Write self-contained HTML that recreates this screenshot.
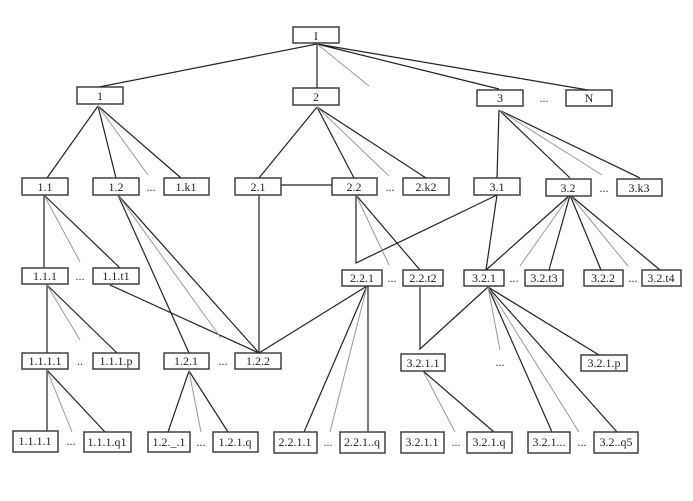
<!DOCTYPE html>
<html><head><style>
html,body{margin:0;padding:0;background:#fff;}
svg{display:block;}
text{font-family:"Liberation Serif",serif;font-size:12px;fill:#222;text-anchor:middle;}
.b{fill:#fff;stroke:#333;stroke-width:1.4;}
.l{stroke:#222;stroke-width:1.2;fill:none;}
.g{stroke:#999;stroke-width:1;fill:none;}
</style></head><body>
<svg width="693" height="501" viewBox="0 0 693 501" xmlns="http://www.w3.org/2000/svg">
<g class="l">
<path d="M317 44L99 87M317 44V88M317 44L499 89M317 44L588 90"/>
<path d="M98 106L47 178M98 106L116 178M98 106L181 178"/>
<path d="M317 107L259 178M317 107L354 178M317 107L426 178"/>
<path d="M499 110L497 178M499 110L570 178M499 110L640 178"/>
<path d="M281 185H332"/>
<path d="M44 195V268M44 195L120 268"/>
<path d="M118 195L189 353M118 195L259 353M110 285L259 353"/>
<path d="M259 195V353M367 286L259 353"/>
<path d="M356 195V263L497 195M356 195L420 270"/>
<path d="M497 195L486 270M570 195L486 270M570 195L549 270M570 195L601 270M570 195L660 270"/>
<path d="M47 285V353M47 285L117 353"/>
<path d="M367 286L304 432M368 286V432"/>
<path d="M420 287V349L488 287M488 287L552 432M488 287L617 432M488 287L599 355"/>
<path d="M423 371L494 432"/>
<path d="M47 370V432M47 370L105 432"/>
<path d="M189 371L168 432M189 371L228 432"/>
</g>
<g class="g">
<path d="M317 44L369 86M98 106L148 175M317 107L389 176M499 110L602 175"/>
<path d="M44 195L80 262M118 195L221 338M356 195L389 265"/>
<path d="M570 195L520 266M570 195L628 266"/>
<path d="M47 285L80 340M367 286L330 432M488 287L500 350M488 287L579 432"/>
<path d="M423 371L455 432M47 370L72 432M189 371L201 432"/>
</g>
<g>
<rect class="b" x="293" y="27" width="46" height="16"/><text x="316" y="40">I</text>
<rect class="b" x="77" y="87" width="46" height="17"/><text x="100" y="100">1</text>
<rect class="b" x="293" y="88" width="46" height="17"/><text x="316" y="101">2</text>
<rect class="b" x="477" y="90" width="46" height="16"/><text x="500" y="102">3</text>
<text x="544" y="102">...</text>
<rect class="b" x="566" y="90" width="46" height="16"/><text x="589" y="102">N</text>

<rect class="b" x="22" y="178" width="46" height="17"/><text x="45" y="191">1.1</text>
<rect class="b" x="93" y="178" width="46" height="17"/><text x="116" y="191">1.2</text>
<text x="151" y="191">...</text>
<rect class="b" x="164" y="178" width="45" height="17"/><text x="186" y="191">1.k1</text>
<rect class="b" x="235" y="178" width="46" height="17"/><text x="258" y="191">2.1</text>
<rect class="b" x="332" y="178" width="45" height="17"/><text x="354" y="191">2.2</text>
<text x="390" y="191">...</text>
<rect class="b" x="403" y="178" width="46" height="17"/><text x="426" y="191">2.k2</text>
<rect class="b" x="474" y="178" width="46" height="17"/><text x="497" y="191">3.1</text>
<rect class="b" x="546" y="179" width="45" height="17"/><text x="568" y="192">3.2</text>
<text x="604" y="192">...</text>
<rect class="b" x="617" y="179" width="45" height="17"/><text x="639" y="192">3.k3</text>

<rect class="b" x="22" y="268" width="46" height="16"/><text x="45" y="280">1.1.1</text>
<text x="80" y="280">...</text>
<rect class="b" x="93" y="268" width="46" height="16"/><text x="116" y="280">1.1.t1</text>
<rect class="b" x="342" y="270" width="40" height="16"/><text x="362" y="282">2.2.1</text>
<text x="392" y="282">...</text>
<rect class="b" x="403" y="270" width="40" height="16"/><text x="423" y="282">2.2.t2</text>
<rect class="b" x="464" y="270" width="40" height="16"/><text x="484" y="282">3.2.1</text>
<text x="514" y="282">...</text>
<rect class="b" x="525" y="270" width="38" height="16"/><text x="544" y="282">3.2.t3</text>
<rect class="b" x="584" y="270" width="39" height="16"/><text x="603" y="282">3.2.2</text>
<text x="633" y="282">...</text>
<rect class="b" x="642" y="270" width="39" height="16"/><text x="661" y="282">3.2.t4</text>

<rect class="b" x="22" y="353" width="46" height="16"/><text x="45" y="365">1.1.1.1</text>
<text x="80" y="365">..</text>
<rect class="b" x="93" y="353" width="46" height="16"/><text x="116" y="365">1.1.1.p</text>
<rect class="b" x="164" y="353" width="45" height="16"/><text x="186" y="365">1.2.1</text>
<text x="223" y="365">...</text>
<rect class="b" x="235" y="353" width="46" height="16"/><text x="258" y="365">1.2.2</text>
<rect class="b" x="401" y="354" width="44" height="17"/><text x="423" y="367">3.2.1.1</text>
<text x="500" y="366">...</text>
<rect class="b" x="581" y="355" width="46" height="16"/><text x="604" y="367">3.2.1.p</text>

<rect class="b" x="13" y="431" width="45" height="21"/><text x="35" y="445">1.1.1.1</text>
<text x="71" y="445">...</text>
<rect class="b" x="84" y="432" width="47" height="20"/><text x="107" y="446">1.1.1.q1</text>
<rect class="b" x="148" y="432" width="42" height="20"/><text x="169" y="446">1.2._.1</text>
<text x="201" y="446">...</text>
<rect class="b" x="213" y="432" width="45" height="20"/><text x="235" y="446">1.2.1.q</text>
<rect class="b" x="274" y="432" width="43" height="21"/><text x="295" y="446">2.2.1.1</text>
<text x="328" y="446">...</text>
<rect class="b" x="340" y="432" width="45" height="21"/><text x="362" y="446">2.2.1..q</text>
<rect class="b" x="401" y="432" width="43" height="21"/><text x="422" y="446">3.2.1.1</text>
<text x="456" y="446">...</text>
<rect class="b" x="467" y="432" width="45" height="21"/><text x="489" y="446">3.2.1.q</text>
<rect class="b" x="528" y="432" width="42" height="21"/><text x="549" y="446">3.2.1...</text>
<text x="582" y="446">...</text>
<rect class="b" x="594" y="432" width="44" height="21"/><text x="616" y="446">3.2..q5</text>
</g>
</svg>
</body></html>
